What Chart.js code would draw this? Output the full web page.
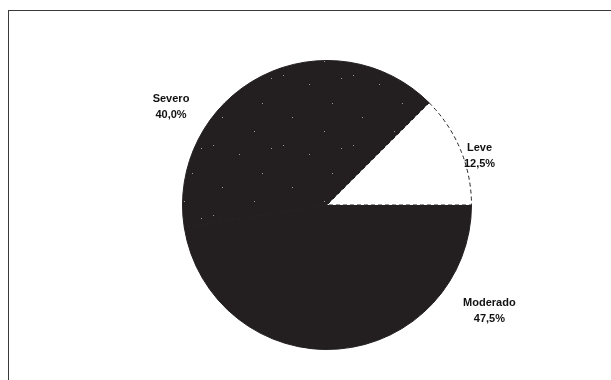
<!DOCTYPE html>
<html>
<head>
<meta charset="utf-8">
<script src="https://cdn.jsdelivr.net/npm/chart.js@4"></script>
<style>
  html, body { margin: 0; padding: 0; background: #fff; overflow: hidden; }
  #wrap { position: relative; width: 611px; height: 380px; }
  #frame { position: absolute; left: 8px; top: 10px; width: 700px; height: 500px; border: 1.5px solid #3a3a3a; box-sizing: border-box; }
  canvas { position: absolute; left: 0; top: 0; }
</style>
</head>
<body>
<div id="wrap">
  <div id="frame"></div>
  <canvas id="c" width="611" height="380"></canvas>
</div>
<script>
const categories = ["Moderado", "Severo", "Leve"];
const values = [47.5, 40.0, 12.5];
const valueLabels = ["47,5%", "40,0%", "12,5%"];

const dark = "#231f20";

function speckle() {
  const c = document.createElement("canvas");
  c.width = 70; c.height = 70;
  const g = c.getContext("2d");
  g.fillStyle = dark; g.fillRect(0, 0, 70, 70);
  g.fillStyle = "#9a9a9a";
  [[3,5],[29,14],[52,33],[12,47],[44,61],[61,8]].forEach(p => g.fillRect(p[0], p[1], 1, 1));
  return g.createPattern(c, "repeat");
}

const labelPlacement = [
  { angle: 33, dist: 1.34 },   // Moderado
  { angle: 212.5, dist: 1.28 }, // Severo
  { angle: 342, dist: 1.11 }    // Leve
];

const labelPlugin = {
  id: "sliceLabels",
  afterDraw(chart) {
    const ctx = chart.ctx;
    const meta = chart.getDatasetMeta(0);
    ctx.save();
    ctx.fillStyle = "#111";
    ctx.font = "bold 11px 'Liberation Sans', Arial, sans-serif";
    ctx.textAlign = "center";
    ctx.textBaseline = "middle";
    meta.data.forEach((arc, i) => {
      const p = labelPlacement[i];
      const a = p.angle * Math.PI / 180;
      const r = arc.outerRadius * p.dist;
      const x = arc.x + Math.cos(a) * r;
      const y = arc.y + Math.sin(a) * r;
      ctx.fillText(categories[i], x, y - 7);
      ctx.fillText(valueLabels[i], x, y + 9);
    });
    ctx.restore();
  }
};

new Chart(document.getElementById("c"), {
  type: "pie",
  data: {
    labels: categories,
    datasets: [{
      data: values,
      backgroundColor: [dark, speckle(), "#ffffff"],
      borderColor: [dark, dark, "#222"],
      borderWidth: [1, 1, 1],
      borderDash: (ctx) => ctx.dataIndex === 2 ? [4, 3] : []
    }]
  },
  options: {
    responsive: false,
    animation: false,
    rotation: 90,
    layout: { padding: { left: 43, right: 0, top: 60, bottom: 30 } },
    plugins: {
      legend: { display: false },
      tooltip: { enabled: false }
    }
  },
  plugins: [labelPlugin]
});
</script>
</body>
</html>
